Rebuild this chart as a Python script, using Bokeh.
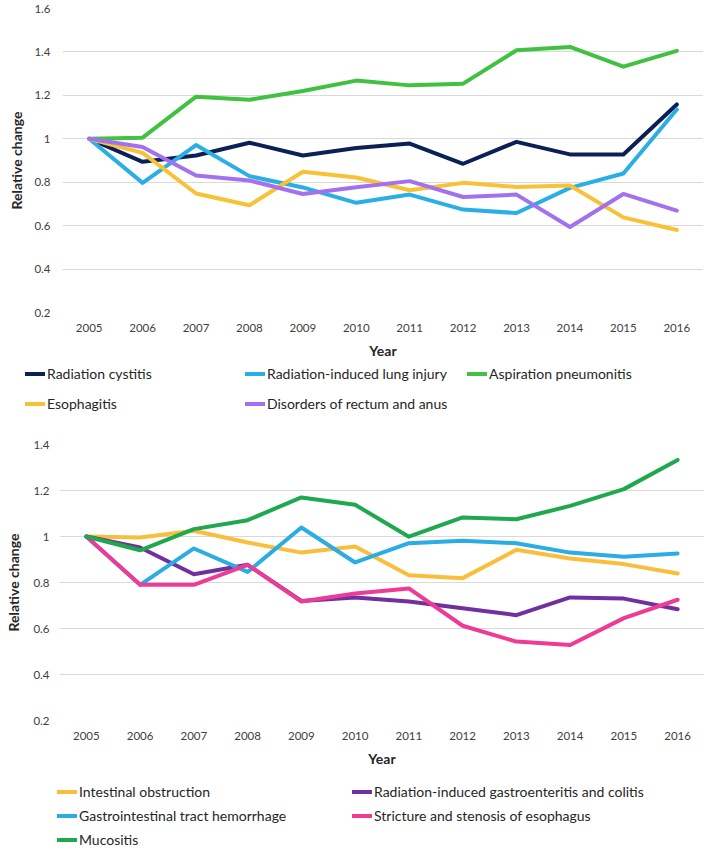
from bokeh.plotting import figure
from bokeh.models import Range1d, FactorRange, FixedTicker, CustomJSTickFormatter, Legend, LegendItem
from bokeh.layouts import column, row
from bokeh.embed import file_html
from bokeh.resources import INLINE

# ---------------- data ----------------
years = ["2005", "2006", "2007", "2008", "2009", "2010",
         "2011", "2012", "2013", "2014", "2015", "2016"]

top_y_ticks = [0.2, 0.4, 0.6, 0.8, 1.0, 1.2, 1.4, 1.6]
bottom_y_ticks = [0.2, 0.4, 0.6, 0.8, 1.0, 1.2, 1.4]

# top panel
radiation_cystitis = [1.0, 0.894, 0.923, 0.982, 0.923, 0.958, 0.978, 0.885, 0.986, 0.928, 0.928, 1.158]
radiation_lung_injury = [1.0, 0.797, 0.971, 0.828, 0.776, 0.705, 0.743, 0.674, 0.658, 0.774, 0.840, 1.135]
aspiration_pneumonitis = [1.0, 1.005, 1.194, 1.180, 1.220, 1.268, 1.246, 1.254, 1.408, 1.423, 1.332, 1.405]
esophagitis = [1.0, 0.935, 0.748, 0.694, 0.848, 0.822, 0.763, 0.797, 0.778, 0.785, 0.638, 0.580]
disorders_rectum_anus = [1.0, 0.962, 0.831, 0.808, 0.746, 0.777, 0.805, 0.732, 0.743, 0.594, 0.746, 0.669]

# bottom panel
intestinal_obstruction = [1.0, 0.996, 1.025, 0.974, 0.930, 0.957, 0.832, 0.819, 0.942, 0.904, 0.880, 0.839]
gastroenteritis_colitis = [1.0, 0.952, 0.836, 0.877, 0.720, 0.735, 0.717, 0.688, 0.658, 0.735, 0.730, 0.684]
gi_hemorrhage = [1.0, 0.790, 0.948, 0.846, 1.039, 0.887, 0.971, 0.981, 0.971, 0.930, 0.912, 0.926]
stricture_esophagus = [1.0, 0.790, 0.790, 0.877, 0.717, 0.752, 0.774, 0.612, 0.543, 0.528, 0.645, 0.725]
mucositis = [1.0, 0.940, 1.032, 1.071, 1.170, 1.138, 0.999, 1.083, 1.075, 1.133, 1.206, 1.333]

top_names = ["Radiation cystitis", "Radiation-induced lung injury", "Aspiration pneumonitis",
             "Esophagitis", "Disorders of rectum and anus"]
top_values = [radiation_cystitis, radiation_lung_injury, aspiration_pneumonitis,
              esophagitis, disorders_rectum_anus]
top_colors = ["#0b2156", "#2aaee6", "#40c240", "#f9c136", "#a371ee"]

bottom_names = ["Intestinal obstruction", "Radiation-induced gastroenteritis and colitis",
                "Gastrointestinal tract hemorrhage", "Stricture and stenosis of esophagus",
                "Mucositis"]
bottom_values = [intestinal_obstruction, gastroenteritis_colitis, gi_hemorrhage,
                 stricture_esophagus, mucositis]
bottom_colors = ["#fabe3a", "#7030a0", "#29ade4", "#ee3b95", "#1fa84e"]

FONT = "Lato"
W = 694
ITEM_H = 17


def make_fig(ticks, ymax, frame_w, frame_h, b_left, b_top, b_bottom,
             lab_standoff, title_standoff):
    p = figure(x_range=FactorRange(*years), y_range=Range1d(0.2, ymax),
               frame_width=frame_w, frame_height=frame_h,
               min_border_left=b_left, min_border_right=0,
               min_border_top=b_top, min_border_bottom=b_bottom,
               output_backend="svg", toolbar_location=None)
    p.outline_line_color = None
    p.xgrid.grid_line_color = None
    p.ygrid.grid_line_color = "#d9d9d9"
    p.ygrid.grid_line_width = 1.2
    p.yaxis.ticker = FixedTicker(ticks=ticks)
    p.yaxis.formatter = CustomJSTickFormatter(code=r"return tick.toFixed(1).replace(/\.0$/, '');")
    for ax in (p.xaxis, p.yaxis):
        ax.axis_line_color = None
        ax.major_tick_line_color = None
        ax.minor_tick_line_color = None
        ax.major_tick_out = 0
        ax.major_tick_in = 0
        ax.minor_tick_out = 0
        ax.minor_tick_in = 0
        ax.major_label_text_font = FONT
        ax.major_label_text_font_size = "11.5px"
        ax.major_label_text_color = "#404040"
        ax.axis_label_text_font = FONT
        ax.axis_label_text_font_size = "14px"
        ax.axis_label_text_font_style = "bold"
        ax.axis_label_text_color = "#262626"
    p.xaxis.axis_label = "Year"
    p.yaxis.axis_label = "Relative change"
    p.xaxis.major_label_standoff = 11
    p.xaxis.axis_label_standoff = 7
    p.yaxis.major_label_standoff = lab_standoff
    p.yaxis.axis_label_standoff = title_standoff
    return p


def add_lines(p, values, colors):
    return [p.line(years, v, line_color=c, line_width=4, line_join="round", line_cap="round")
            for v, c in zip(values, colors)]


def legend_fig(height):
    # a strip below each chart that holds its key; the series are drawn here
    # too, but the y range keeps them out of view so only the key shows
    f = figure(width=W, height=height, x_range=FactorRange(*years), y_range=Range1d(10, 11),
               x_axis_type=None, y_axis_type=None,
               min_border_left=0, min_border_right=0, min_border_top=0, min_border_bottom=0,
               output_backend="svg", toolbar_location=None)
    f.outline_line_color = None
    f.xgrid.visible = False
    f.ygrid.visible = False
    return f


def legend_col(f, names, values, colors, x, top, spacing):
    items = []
    for name, vals, color in zip(names, values, colors):
        r = f.line(years, vals, line_color=color, line_width=4, line_cap="round")
        items.append(LegendItem(label=name, renderers=[r]))
    n = len(items)
    H = n * ITEM_H + (n - 1) * spacing
    vy = f.height - top - H
    lg = Legend(items=items, location=(x, vy), orientation="vertical",
                glyph_width=20, glyph_height=ITEM_H, label_height=ITEM_H,
                label_standoff=2, spacing=spacing, padding=0, margin=0,
                border_line_color=None, background_fill_alpha=0,
                label_text_font=FONT, label_text_font_size="14px",
                label_text_color="#262626")
    f.add_layout(lg, "center")


def pick(seq, idx):
    return [seq[i] for i in idx]


# ---------------- top chart ----------------
p1 = make_fig(top_y_ticks, 1.6, 641, 304, 62, 8, 52, 12, 6)
add_lines(p1, top_values, top_colors)

leg1 = legend_fig(52)
for idx, x, top in (([0, 3], 25, 1), ([1, 4], 245, 1), ([2], 467, 1)):
    legend_col(leg1, pick(top_names, idx), pick(top_values, idx), pick(top_colors, idx), x, top, 13)

# ---------------- bottom chart ----------------
p2 = make_fig(bottom_y_ticks, 1.4, 645, 276, 59, 28, 52, 10, 8)
add_lines(p2, bottom_values, bottom_colors)

leg2 = legend_fig(82)
for idx, x, top in (([0, 2, 4], 57, 11), ([1, 3], 352, 11)):
    legend_col(leg2, pick(bottom_names, idx), pick(bottom_values, idx), pick(bottom_colors, idx), x, top, 7)

layout = column(row(p1), row(leg1), row(p2), row(leg2), spacing=0)
open("out.html", "w").write(file_html(layout, INLINE))
